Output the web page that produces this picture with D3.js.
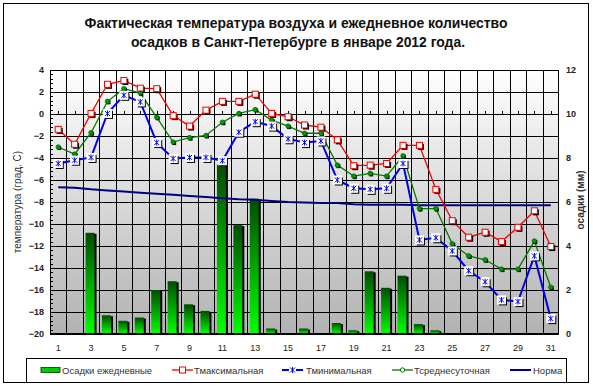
<!DOCTYPE html>
<html>
<head>
<meta charset="utf-8">
<script src="https://cdn.jsdelivr.net/npm/d3@7"></script>
<style>
  body { margin: 0; background: #fff; }
  svg { display: block; font-family: 'Liberation Sans', Arial, sans-serif; }
</style>
</head>
<body>
<div id="graf"></div>
<script>
// данные, январь 2012
const days = d3.range(1, 32)
const oddDays = days.filter((d) => d % 2 === 1)
const precip = [0, 0, 4.6, 0.85, 0.6, 0.75, 2.0, 2.4, 1.35, 1.05, 7.7, 4.95, 6.15, 0.25, 0, 0.25, 0, 0.5, 0.17, 2.85, 2.1, 2.65, 0.45, 0.17, 0, 0, 0, 0, 0, 0, 0]
const tmax = [-1.4, -2.75, 0.05, 2.7, 3.05, 2.35, 2.3, -0.15, -1.1, 0.35, 1.15, 1.15, 1.8, 0.05, -0.25, -1.0, -1.2, -2.35, -4.7, -4.65, -4.5, -2.85, -2.85, -6.85, -9.7, -11.2, -10.75, -11.6, -10.3, -8.8, -12.05]
const tmean = [-3.0, -3.65, -1.7, 1.15, 2.3, 1.9, -0.3, -2.55, -2.15, -1.95, -0.75, 0.05, 0.4, -0.55, -1.1, -1.75, -1.75, -4.65, -5.65, -5.4, -5.65, -3.8, -8.6, -8.6, -11.8, -12.9, -13.25, -14.1, -14.1, -11.55, -15.75]
const tmin = [-4.5, -4.2, -3.95, 0.05, 1.7, 1.1, -2.6, -4.05, -3.95, -3.95, -4.25, -1.65, -0.7, -1.1, -2.25, -2.6, -2.45, -6.0, -6.75, -6.85, -6.75, -4.5, -11.45, -11.25, -12.45, -14.25, -15.25, -16.9, -17.05, -12.9, -18.6]
const norma = [-6.65, -6.7, -6.85, -6.95, -7.05, -7.15, -7.25, -7.35, -7.45, -7.55, -7.65, -7.75, -7.8, -7.9, -8.0, -8.05, -8.1, -8.1, -8.2, -8.25, -8.25, -8.25, -8.3, -8.3, -8.3, -8.3, -8.3, -8.3, -8.3, -8.3, -8.3]
const tempTicks = d3.range(-20, 5, 2)
const precTicks = d3.range(0, 13, 2)

const anchoTotal = 593
const altoTotal = 386
const margin = { top: 70, left: 50, right: 34, bottom: 52 }
const ancho = anchoTotal - margin.left - margin.right
const alto = altoTotal - margin.top - margin.bottom

const svg = d3.select('#graf').append('svg')
  .attr('width', anchoTotal)
  .attr('height', altoTotal)

const defs = svg.append('defs')
const bg = defs.append('linearGradient').attr('id', 'bg')
  .attr('x1', 0).attr('y1', 0).attr('x2', 0).attr('y2', 1)
bg.append('stop').attr('offset', '0%').attr('stop-color', '#ffffff')
bg.append('stop').attr('offset', '100%').attr('stop-color', '#b2b2b2')
const barGrad = defs.append('linearGradient').attr('id', 'barGrad')
  .attr('x1', 0).attr('y1', 0).attr('x2', 0).attr('y2', 1)
barGrad.append('stop').attr('offset', '0%').attr('stop-color', '#004d00')
barGrad.append('stop').attr('offset', '100%').attr('stop-color', '#00ff00')

// рамка
svg.append('rect')
  .attr('x', 3.5).attr('y', 3.5)
  .attr('width', 585).attr('height', 379)
  .attr('fill', '#fff').attr('stroke', '#000')

// заголовок
const title = svg.append('text')
  .attr('text-anchor', 'middle')
  .attr('font-weight', 'bold')
  .attr('font-size', 15)
  .attr('fill', '#111')
title.append('tspan').attr('x', 296).attr('y', 28)
  .attr('textLength', 423).attr('lengthAdjust', 'spacingAndGlyphs')
  .text('Фактическая температура воздуха и ежедневное количество')
title.append('tspan').attr('x', 298).attr('y', 47)
  .attr('textLength', 334).attr('lengthAdjust', 'spacingAndGlyphs')
  .text('осадков в Санкт-Петербурге в январе 2012 года.')

// !ESCALADORES
const x = d3.scaleBand().domain(days).range([0, ancho])
const yT = d3.scaleLinear().domain([-20, 4]).range([alto, 0])
const yP = d3.scaleLinear().domain([0, 12]).range([alto, 0])

const g = svg.append('g')
  .attr('transform', `translate(${margin.left}, ${margin.top})`)

g.append('rect')
  .attr('width', ancho).attr('height', alto)
  .attr('fill', 'url(#bg)')

// сетка
g.append('g')
  .selectAll('line')
  .data(tempTicks)
  .join('line')
  .attr('x1', 0).attr('x2', ancho)
  .attr('y1', (d) => Math.round(yT(d)) + 0.5)
  .attr('y2', (d) => Math.round(yT(d)) + 0.5)
  .attr('stroke', '#000')

g.append('g')
  .selectAll('line')
  .data(days)
  .join('line')
  .attr('x1', (d) => Math.round(x(d)) + 0.5)
  .attr('x2', (d) => Math.round(x(d)) + 0.5)
  .attr('y1', 0).attr('y2', alto)
  .attr('stroke', '#000')

// мелкие деления слева
g.append('g')
  .selectAll('line')
  .data(d3.range(-20, 4.01, 0.4))
  .join('line')
  .attr('x1', 0).attr('x2', 3)
  .attr('y1', (d) => Math.round(yT(d)) + 0.5)
  .attr('y2', (d) => Math.round(yT(d)) + 0.5)
  .attr('stroke', '#000')

// ось X на нуле
g.append('g')
  .selectAll('line')
  .data(days)
  .join('line')
  .attr('x1', (d) => Math.round(x(d) + x.bandwidth() / 2) + 0.5)
  .attr('x2', (d) => Math.round(x(d) + x.bandwidth() / 2) + 0.5)
  .attr('y1', Math.round(yT(0))).attr('y2', Math.round(yT(0)) - 3)
  .attr('stroke', '#000')

// столбики осадков
const bw = 9
const bars = g.append('g')
bars.selectAll('rect.sh')
  .data(days.filter((d, i) => precip[i] > 0))
  .join('rect')
  .attr('class', 'sh')
  .attr('x', (d) => x(d) + x.bandwidth() / 2 - 5.5 + 2)
  .attr('y', (d) => yP(precip[d - 1]) + 1)
  .attr('width', bw)
  .attr('height', (d) => alto - yP(precip[d - 1]) - 1)
  .attr('fill', '#000')
bars.selectAll('rect.bar')
  .data(days.filter((d, i) => precip[i] > 0))
  .join('rect')
  .attr('class', 'bar')
  .attr('x', (d) => x(d) + x.bandwidth() / 2 - 5.5)
  .attr('y', (d) => yP(precip[d - 1]))
  .attr('width', bw)
  .attr('height', (d) => alto - yP(precip[d - 1]))
  .attr('fill', 'url(#barGrad)')

g.append('rect')
  .attr('x', 0.5).attr('y', 0.5)
  .attr('width', ancho - 1).attr('height', alto - 1)
  .attr('fill', 'none').attr('stroke', '#000')

const cx = (d) => x(d) + x.bandwidth() / 2

function serie(vals, color, width) {
  const line = d3.line().x((d, i) => cx(days[i])).y((d) => yT(d))
  g.append('path')
    .datum(vals)
    .attr('d', line)
    .attr('fill', 'none')
    .attr('stroke', color)
    .attr('stroke-width', width)
}

serie(norma, '#000080', 2)
serie(tmax, '#ee0000', 1.3)
serie(tmean, '#007a00', 1.3)
serie(tmin, '#0000ee', 2)

// маркеры
function squares(vals, size, stroke) {
  const m = g.append('g')
  m.selectAll('rect.sh').data(vals).join('rect')
    .attr('x', (d, i) => cx(days[i]) - size / 2 + 1.5)
    .attr('y', (d) => yT(d) - size / 2 + 1.5)
    .attr('width', size).attr('height', size)
    .attr('fill', '#000')
  m.selectAll('rect.mk').data(vals).join('rect')
    .attr('x', (d, i) => cx(days[i]) - size / 2)
    .attr('y', (d) => yT(d) - size / 2)
    .attr('width', size).attr('height', size)
    .attr('fill', '#fff')
    .attr('stroke', stroke)
    .attr('stroke-width', 1)
  return m
}

squares(tmax, 6, '#ee0000')

const mg = g.append('g')
mg.selectAll('rect.sh').data(tmean).join('rect')
  .attr('x', (d, i) => cx(days[i]) - 1)
  .attr('y', (d) => yT(d) - 1)
  .attr('width', 4).attr('height', 4)
  .attr('fill', '#000')
mg.selectAll('circle').data(tmean).join('circle')
  .attr('cx', (d, i) => cx(days[i]))
  .attr('cy', (d) => yT(d))
  .attr('r', 2.3)
  .attr('fill', '#009900')
  .attr('stroke', '#005000')
  .attr('stroke-width', 0.6)

const mb = squares(tmin, 8, '#ffffff')
mb.selectAll('path').data(tmin).join('path')
  .attr('transform', (d, i) => `translate(${cx(days[i])}, ${yT(d)})`)
  .attr('d', 'M-2.5,-2.5L2.5,2.5M-2.5,2.5L2.5,-2.5M0,-3L0,3')
  .attr('stroke', '#0000ee')
  .attr('stroke-width', 1)
  .attr('fill', 'none')

// !EJES
const ejeIzq = g.append('g')
  .call(d3.axisLeft(yT).tickValues(tempTicks).tickSize(0).tickPadding(6))
ejeIzq.select('.domain').remove()
ejeIzq.selectAll('text')
  .attr('font-size', 9).attr('font-weight', 'bold').attr('fill', '#222')
  .attr('font-family', "'Liberation Sans', Arial, sans-serif")

const ejeDer = g.append('g')
  .attr('transform', `translate(${ancho}, 0)`)
  .call(d3.axisRight(yP).tickValues(precTicks).tickSize(0).tickPadding(7))
ejeDer.select('.domain').remove()
ejeDer.selectAll('text')
  .attr('font-size', 9).attr('font-weight', 'bold').attr('fill', '#222')
  .attr('font-family', "'Liberation Sans', Arial, sans-serif")

g.append('g')
  .selectAll('text')
  .data(oddDays)
  .join('text')
  .attr('x', (d) => cx(d))
  .attr('y', alto + 17)
  .attr('text-anchor', 'middle')
  .attr('font-size', 9)
  .attr('fill', '#222')
  .text((d) => d)

svg.append('text')
  .attr('transform', 'translate(21, 202) rotate(-90)')
  .attr('text-anchor', 'middle')
  .attr('font-size', 10)
  .attr('fill', '#333')
  .text('температура (град. С)')

svg.append('text')
  .attr('transform', 'translate(584, 200) rotate(-90)')
  .attr('text-anchor', 'middle')
  .attr('font-size', 10)
  .attr('font-weight', 'bold')
  .attr('fill', '#333')
  .text('осадки (мм)')

// !LEYENDA
const leg = svg.append('g')
leg.append('rect')
  .attr('x', 26.5).attr('y', 358.5)
  .attr('width', 540).attr('height', 24)
  .attr('fill', '#fff').attr('stroke', '#000')

const ly = 370
leg.append('rect')
  .attr('x', 41).attr('y', ly - 2.5).attr('width', 19).attr('height', 5)
  .attr('fill', '#00cc00').attr('stroke', '#003300').attr('stroke-width', 0.8)

const legItems = [
  { x: 172, color: '#ee0000', w: 1.3, mk: 'sq' },
  { x: 282, color: '#0000ee', w: 2, mk: 'st' },
  { x: 392, color: '#007a00', w: 1.3, mk: 'ci' },
  { x: 510, color: '#000080', w: 2, mk: '' },
]
legItems.forEach((it) => {
  leg.append('line')
    .attr('x1', it.x).attr('x2', it.x + 21)
    .attr('y1', ly).attr('y2', ly)
    .attr('stroke', it.color).attr('stroke-width', it.w)
  const c = it.x + 10.5
  if (it.mk === 'sq') {
    leg.append('rect').attr('x', c - 3).attr('y', ly - 3).attr('width', 6).attr('height', 6)
      .attr('fill', '#fff').attr('stroke', it.color)
  } else if (it.mk === 'st') {
    leg.append('rect').attr('x', c - 3.5).attr('y', ly - 3.5).attr('width', 7).attr('height', 7)
      .attr('fill', '#fff')
    leg.append('path').attr('transform', `translate(${c}, ${ly})`)
      .attr('d', 'M-2.5,-2.5L2.5,2.5M-2.5,2.5L2.5,-2.5M0,-3L0,3')
      .attr('stroke', it.color).attr('fill', 'none')
  } else if (it.mk === 'ci') {
    leg.append('circle').attr('cx', c).attr('cy', ly).attr('r', 2.2)
      .attr('fill', '#fff').attr('stroke', it.color)
  }
})

const legText = [
  { x: 62, t: 'Осадки ежедневные' },
  { x: 194, t: 'Тмаксимальная' },
  { x: 306, t: 'Тминимальная' },
  { x: 414, t: 'Тсреднесуточная' },
  { x: 533, t: 'Норма' },
]
leg.selectAll('text.lt')
  .data(legText)
  .join('text')
  .attr('class', 'lt')
  .attr('x', (d) => d.x)
  .attr('y', ly + 3.5)
  .attr('font-size', 9.5)
  .attr('fill', '#333')
  .text((d) => d.t)
</script>
</body>
</html>
